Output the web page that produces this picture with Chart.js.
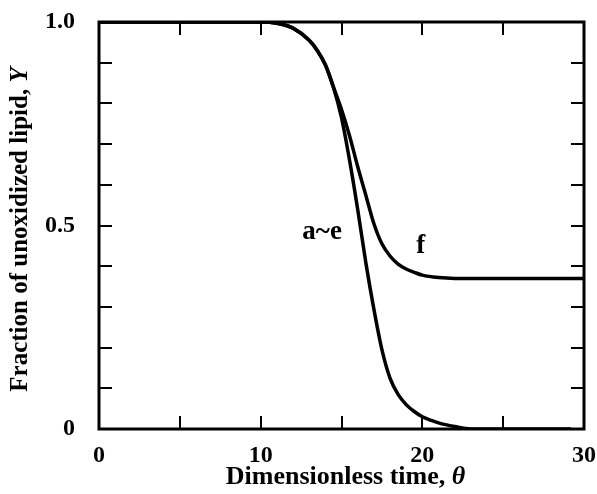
<!DOCTYPE html>
<html>
<head>
<meta charset="utf-8">
<script src="https://cdn.jsdelivr.net/npm/chart.js@4/dist/chart.umd.min.js"></script>
<style>
  html, body { margin: 0; padding: 0; background: #fff; }
  canvas { display: block; }
</style>
</head>
<body>
<canvas id="chart" width="597" height="494"></canvas>
<script>
/* ── Data ───────────────────────────────────────────────────────────────────── */
// curves a~e (they coincide) – dimensionless time θ vs unoxidized fraction Y
const THETA_AE = [0, 10, 11, 12, 13, 13.5, 14, 14.5, 15, 15.5, 16, 16.5, 17, 17.5, 18, 18.5, 19, 19.5, 20, 20.5, 21, 22, 23, 29.2];
const Y_AE     = [1, 1, 0.997, 0.985, 0.955, 0.93, 0.895, 0.84, 0.765, 0.66, 0.54, 0.41, 0.295, 0.195, 0.125, 0.085, 0.06, 0.043, 0.03, 0.022, 0.015, 0.006, 0, 0];

// curve f – levels off above zero
const THETA_F = [0, 10, 11, 12, 13, 13.5, 14, 14.5, 15, 15.5, 16, 16.5, 17, 17.5, 18, 18.5, 19, 19.5, 20, 21, 22, 30];
const Y_F     = [1, 1, 0.997, 0.985, 0.955, 0.93, 0.895, 0.84, 0.785, 0.72, 0.645, 0.575, 0.505, 0.455, 0.425, 0.405, 0.393, 0.385, 0.378, 0.372, 0.37, 0.37];

// ticks: minor every step, labelled ones listed
const X_LABELS = [0, 10, 20, 30];
const Y_LABELS = { 0: "0", 0.5: "0.5", 1: "1.0" };

// curve tags, in data coordinates
const TAGS = [
  { text: "a~e", x: 13.8, y: 0.485 },
  { text: "f",   x: 19.9, y: 0.45 },
];

/* ── Style ──────────────────────────────────────────────────────────────────── */
const FONT = "'Liberation Serif', 'DejaVu Serif', serif";
const INK = "#000";

const toPoints = (xs, ys) => xs.map((x, i) => ({ x, y: ys[i] }));

/* ── Frame, inner ticks, tags and axis titles ───────────────────────────────── */
const framePlugin = {
  id: "frame",
  beforeDatasetsDraw(chart) {
    const { ctx, chartArea: a, scales: { x, y } } = chart;
    const len = 13;
    ctx.save();
    ctx.strokeStyle = INK;
    ctx.lineWidth = 2;
    ctx.beginPath();
    x.ticks.forEach((t) => {
      if (t.value <= x.min || t.value >= x.max) return;
      const px = Math.round(x.getPixelForValue(t.value));
      ctx.moveTo(px, a.bottom); ctx.lineTo(px, a.bottom - len);
      ctx.moveTo(px, a.top);    ctx.lineTo(px, a.top + len);
    });
    y.ticks.forEach((t) => {
      if (t.value <= y.min + 1e-6 || t.value >= y.max - 1e-6) return;
      const py = Math.round(y.getPixelForValue(t.value));
      ctx.moveTo(a.left, py);  ctx.lineTo(a.left + len, py);
      ctx.moveTo(a.right, py); ctx.lineTo(a.right - len, py);
    });
    ctx.stroke();

    ctx.lineWidth = 3;
    ctx.strokeRect(a.left, a.top, a.right - a.left, a.bottom - a.top);
    ctx.restore();
  },
  afterDraw(chart) {
    const { ctx, chartArea: a, scales: { x, y } } = chart;
    ctx.save();
    ctx.fillStyle = INK;

    // curve tags
    ctx.font = `bold 27px ${FONT}`;
    ctx.textAlign = "center";
    ctx.textBaseline = "middle";
    TAGS.forEach((t) => ctx.fillText(t.text, x.getPixelForValue(t.x), y.getPixelForValue(t.y)));

    // titles with an italic symbol at the end
    const drawMixed = (parts, cx, cy) => {
      const widths = parts.map((p) => { ctx.font = p.font; return ctx.measureText(p.text).width; });
      let left = cx - widths.reduce((s, w) => s + w, 0) / 2;
      ctx.textAlign = "left";
      ctx.textBaseline = "middle";
      parts.forEach((p, i) => { ctx.font = p.font; ctx.fillText(p.text, left, cy); left += widths[i]; });
    };
    drawMixed([
      { text: "Dimensionless time, ", font: `bold 26px ${FONT}` },
      { text: "θ", font: `italic bold 26px ${FONT}` },
    ], (a.left + a.right) / 2 + 4, 477);

    ctx.translate(21, (a.top + a.bottom) / 2 + 4);
    ctx.rotate(-Math.PI / 2);
    drawMixed([
      { text: "Fraction of unoxidized lipid, ", font: `bold 25px ${FONT}` },
      { text: "Y", font: `italic bold 25px ${FONT}` },
    ], 0, 0);
    ctx.restore();
  },
};

/* ── Chart ──────────────────────────────────────────────────────────────────── */
const tickFont = { family: FONT, size: 24, weight: "bold" };

new Chart(document.getElementById("chart"), {
  type: "line",
  data: {
    datasets: [
      { label: "a~e", data: toPoints(THETA_AE, Y_AE) },
      { label: "f",   data: toPoints(THETA_F, Y_F) },
    ],
  },
  options: {
    responsive: false,
    animation: false,
    devicePixelRatio: 1,
    layout: { padding: { left: 0, top: 22, right: 13, bottom: 0 } },
    elements: {
      point: { radius: 0 },
      line: { borderColor: INK, borderWidth: 3.5, cubicInterpolationMode: "monotone", fill: false },
    },
    plugins: { legend: { display: false }, tooltip: { enabled: false } },
    scales: {
      x: {
        type: "linear",
        min: 0, max: 30,
        grid: { display: false },
        border: { display: false },
        ticks: {
          stepSize: 5,
          autoSkip: false,
          maxRotation: 0,
          padding: 4,
          color: INK,
          font: tickFont,
          callback: (v) => (X_LABELS.includes(v) ? String(v) : ""),
        },
        // fixed box, no extra room for the end labels
        afterFit: (s) => { s.height = 65; s.paddingLeft = 0; s.paddingRight = 0; },
      },
      y: {
        min: 0, max: 1,
        grid: { display: false },
        border: { display: false },
        ticks: {
          stepSize: 0.1,
          autoSkip: false,
          padding: 16,
          color: INK,
          font: tickFont,
          callback: (v) => {
            const key = Object.keys(Y_LABELS).find((k) => Math.abs(k - v) < 1e-6);
            return key !== undefined ? Y_LABELS[key] : "";
          },
        },
        afterFit: (s) => { s.width = 99; s.paddingTop = 0; s.paddingBottom = 0; },
      },
    },
  },
  plugins: [framePlugin],
});
</script>
</body>
</html>
